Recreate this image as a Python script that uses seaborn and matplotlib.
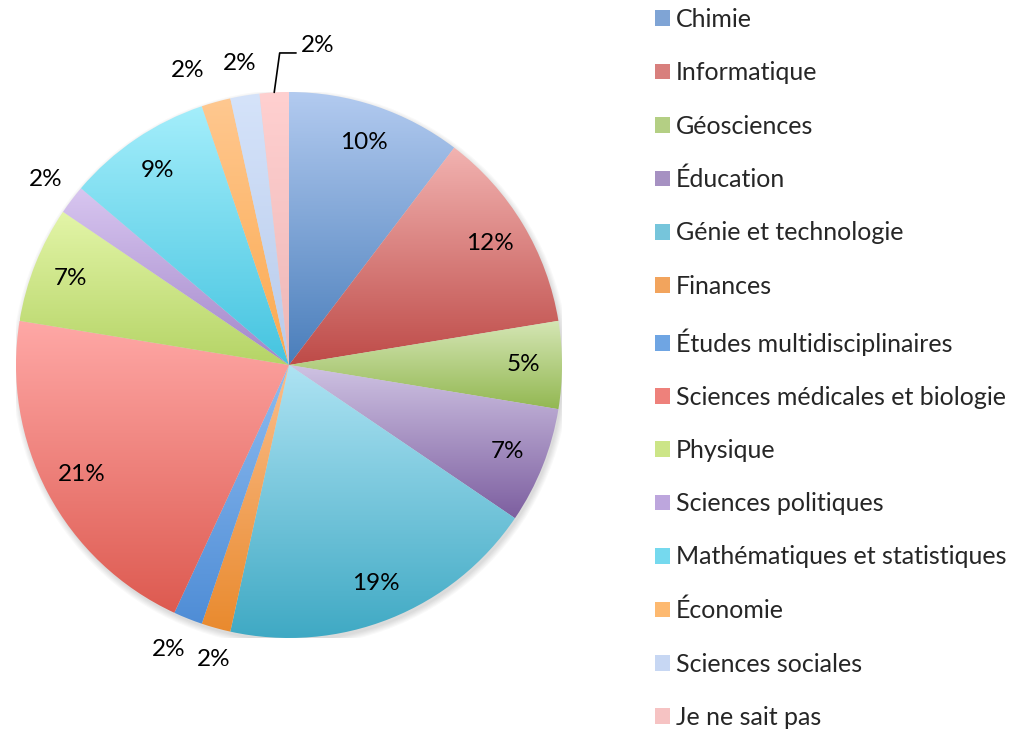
import numpy as np
import matplotlib
matplotlib.use('Agg')
import matplotlib.pyplot as plt
import seaborn as sns
from matplotlib.colors import LinearSegmentedColormap, to_rgb
from matplotlib.patches import Patch, Circle

# Répartition des domaines (effectifs, total 58)
categories = ['Chimie', 'Informatique', 'Géosciences', 'Éducation',
              'Génie et technologie', 'Finances', 'Études multidisciplinaires',
              'Sciences médicales et biologie', 'Physique', 'Sciences politiques',
              'Mathématiques et statistiques', 'Économie', 'Sciences sociales',
              'Je ne sait pas']
counts = [6, 7, 3, 4, 11, 1, 1, 12, 4, 1, 5, 1, 1, 1]

# gradient colours, light at the top of each slice, darker at the bottom
top_colors = ['#B3CBF0', '#F2B3B1', '#D5E6B5', '#CFC3E3', '#AEE3F3', '#FBBE8B',
              '#8EBCF0', '#FFA8A6', '#E3F5A8', '#D8C6F0', '#A4EEFB', '#FFC890',
              '#D5E3FA', '#FFD0D0']
bottom_colors = ['#4A7EBB', '#BE4B48', '#93B852', '#7D5FA0', '#3DA8C3', '#E98A2E',
                 '#4F8DD6', '#DD5A50', '#B5D466', '#A286C9', '#45C4E0', '#FBA94F',
                 '#B8CBEB', '#EDB7B7']

sns.set_theme(style='white')
plt.rcParams['font.family'] = ['Lato', 'DejaVu Sans']
fs_pie = 17.5
fs_leg = 18

fig = plt.figure(figsize=(10.13, 7.32), dpi=100)
ax = fig.add_axes([16 / 1013, 94 / 732, 546 / 1013, 546 / 732])

# soft shadow under the pie
for i in range(6):
    ax.add_patch(Circle((0.006, -0.012), 1.0 + 0.004 * i, color='black',
                        alpha=0.025, lw=0, zorder=0))

wedges, texts, autotexts = ax.pie(counts, startangle=90, counterclock=False, radius=1,
                                  autopct='%.0f%%', pctdistance=0.86,
                                  textprops=dict(fontsize=fs_pie, color='black'),
                                  wedgeprops=dict(linewidth=0))

grad = np.linspace(0, 1, 256).reshape(-1, 1)
for w, c0, c1 in zip(wedges, top_colors, bottom_colors):
    verts = w.get_path().vertices
    x0, y0 = verts.min(axis=0)
    x1, y1 = verts.max(axis=0)
    cmap = LinearSegmentedColormap.from_list('g', [c1, c0])
    im = ax.imshow(grad, cmap=cmap, extent=[x0, x1, y0, y1], origin='lower',
                   aspect='auto', zorder=1, interpolation='bilinear')
    im.set_clip_path(w)
    w.set_facecolor('none')

# small slices get their label outside
nudge = {'Finances': 0.025, 'Études multidisciplinaires': -0.025, 'Économie': -0.07}
for i, (w, t, n) in enumerate(zip(wedges, autotexts, counts)):
    if n == 1:
        ang = np.deg2rad((w.theta1 + w.theta2) / 2)
        x, y = 1.12 * np.cos(ang), 1.12 * np.sin(ang)
        x += nudge.get(categories[i], 0)
        t.set_position((x, y))

# leader line for the last slice
w = wedges[-1]
ang = np.deg2rad((w.theta1 + w.theta2) / 2)
sx, sy = np.cos(ang), np.sin(ang)
ax.plot([sx, sx + 0.02, sx + 0.08], [sy, 1.143, 1.143], color='black', lw=1.2,
        clip_on=False, zorder=4)
autotexts[-1].set_position((0.105, 1.172))

ax.set_xlim(-1, 1)
ax.set_ylim(-1, 1)
ax.set_aspect('equal')
ax.axis('off')

handles = []
for c0, c1 in zip(top_colors, bottom_colors):
    mid = (np.array(to_rgb(c0)) + np.array(to_rgb(c1))) / 2
    handles.append(Patch(facecolor=mid, edgecolor='none'))
fig.legend(handles, categories, loc='upper left', bbox_to_anchor=(655 / 1013, 1 - 8 / 732),
           frameon=False, fontsize=fs_leg, handlelength=0.6, handleheight=0.6,
           handletextpad=0.24, labelspacing=1.21, borderaxespad=0, borderpad=0)

fig.savefig('out.png', dpi=100, facecolor='white')
